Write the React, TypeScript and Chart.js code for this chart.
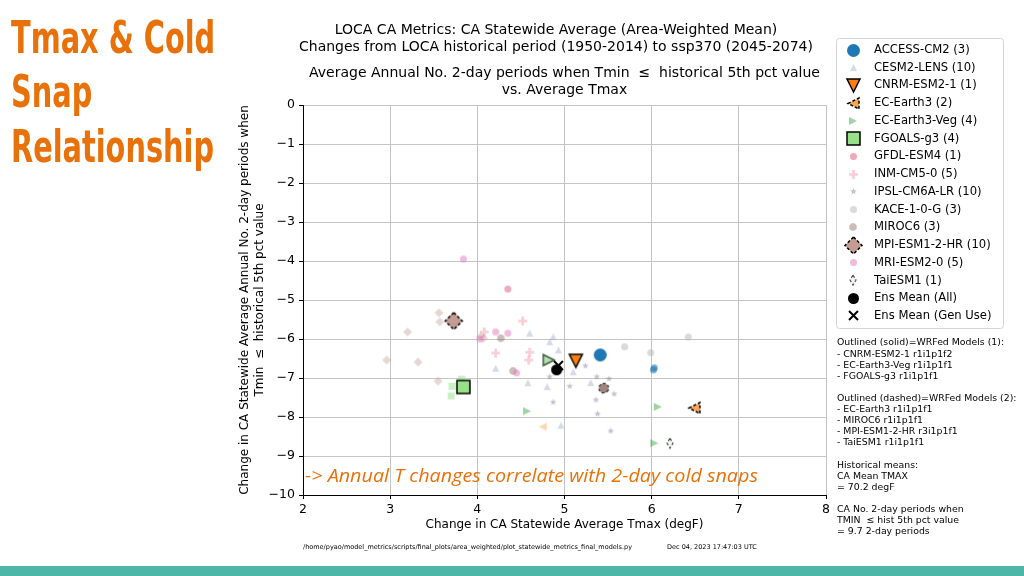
import React, { useEffect, useRef } from 'react';
import { Chart, registerables } from 'chart.js';

Chart.register(...registerables);

const FONT = '"DejaVu Sans", sans-serif';

// ---- Data (x = change in Tmax degF, y = change in no. of 2-day cold periods) ----
// For models with a highlighted (WRF / main) member, it is the LAST point.
const modelNames = [
  'ACCESS-CM2', 'CESM2-LENS', 'CNRM-ESM2-1', 'EC-Earth3', 'EC-Earth3-Veg', 'FGOALS-g3',
  'GFDL-ESM4', 'INM-CM5-0', 'IPSL-CM6A-LR', 'KACE-1-0-G', 'MIROC6', 'MPI-ESM1-2-HR',
  'MRI-ESM2-0', 'TaiESM1',
];
const memberCounts = [3, 10, 1, 2, 4, 4, 1, 5, 10, 3, 3, 10, 5, 1];

const accessX = [6.02, 6.03, 5.41];
const accessY = [-6.79, -6.74, -6.41];
const cesmX = [4.60, 4.87, 4.83, 4.93, 5.10, 4.58, 4.80, 5.30, 4.96, 4.21];
const cesmY = [-5.85, -5.94, -6.07, -6.28, -6.84, -7.12, -7.22, -7.12, -8.21, -6.75];
const cnrmX = [5.13];
const cnrmY = [-6.56];
const ecEarthX = [4.75, 6.49];
const ecEarthY = [-8.25, -7.77];
const ecVegX = [4.57, 6.07, 6.03, 4.82];
const ecVegY = [-7.85, -7.74, -8.67, -6.54];
const fgoalsX = [3.82, 3.71, 3.70, 3.84];
const fgoalsY = [-7.03, -7.21, -7.46, -7.23];
const gfdlX = [4.35];
const gfdlY = [-4.72];
const inmX = [4.52, 4.08, 4.21, 4.60, 4.59];
const inmY = [-5.54, -5.82, -6.36, -6.34, -6.54];
const ipslX = [5.24, 4.83, 5.06, 5.37, 5.51, 5.57, 5.36, 4.87, 5.38, 5.53];
const ipslY = [-6.69, -6.97, -7.21, -6.97, -7.02, -7.41, -7.56, -7.62, -7.92, -8.36];
const kaceX = [5.69, 6.42, 5.99];
const kaceY = [-6.20, -5.95, -6.35];
const mirocX = [4.27, 4.41, 5.45];
const mirocY = [-5.98, -6.82, -7.26];
const mpiX = [3.56, 3.57, 3.20, 2.96, 3.32, 3.55, 4.04, 4.07, 3.70, 3.73];
const mpiY = [-5.33, -5.56, -5.82, -6.54, -6.59, -7.08, -5.93, -5.98, -5.47, -5.54];
const mriX = [3.84, 4.21, 4.35, 4.45, 4.03];
const mriY = [-3.95, -5.82, -5.85, -6.87, -6.00];
const taiX = [6.21];
const taiY = [-8.67];
const ensAllX = [4.91];
const ensAllY = [-6.79];
const ensGenX = [4.93];
const ensGenY = [-6.68];

const modelXs = [accessX, cesmX, cnrmX, ecEarthX, ecVegX, fgoalsX, gfdlX, inmX, ipslX, kaceX, mirocX, mpiX, mriX, taiX];
const modelYs = [accessY, cesmY, cnrmY, ecEarthY, ecVegY, fgoalsY, gfdlY, inmY, ipslY, kaceY, mirocY, mpiY, mriY, taiY];

const xTickValues = [2, 3, 4, 5, 6, 7, 8];
const yTickValues = [0, -1, -2, -3, -4, -5, -6, -7, -8, -9, -10];

const titleLines1 = [
  'LOCA CA Metrics: CA Statewide Average (Area-Weighted Mean)',
  'Changes from LOCA historical period (1950-2014) to ssp370 (2045-2074)',
];
const titleLines2 = [
  'Average Annual No. 2-day periods when Tmin  \u2264  historical 5th pct value',
  'vs. Average Tmax',
];
const yTitle = [
  'Change in CA Statewide Average Annual No. 2-day periods when',
  'Tmin  \u2264  historical 5th pct value',
];
const xTitle = 'Change in CA Statewide Average Tmax (degF)';
const slideTitle = ['Tmax & Cold', 'Snap', 'Relationship'];
const noteLines = [
  'Outlined (solid)=WRFed Models (1):',
  '- CNRM-ESM2-1 r1i1p1f2',
  '- EC-Earth3-Veg r1i1p1f1',
  '- FGOALS-g3 r1i1p1f1',
  '',
  'Outlined (dashed)=WRFed Models (2):',
  '- EC-Earth3 r1i1p1f1',
  '- MIROC6 r1i1p1f1',
  '- MPI-ESM1-2-HR r3i1p1f1',
  '- TaiESM1 r1i1p1f1',
  '',
  'Historical means:',
  'CA Mean TMAX',
  '= 70.2 degF',
  '',
  'CA No. 2-day periods when',
  'TMIN  \u2264 hist 5th pct value',
  '= 9.7 2-day periods',
];
const annotation = '-> Annual T changes correlate with 2-day cold snaps';
const footerPath = '/home/pyao/model_metrics/scripts/final_plots/area_weighted/plot_statewide_metrics_final_models.py';
const footerDate = 'Dec 04, 2023 17:47:03 UTC';

// ---- Marker styles ----
type Shape = 'circle' | 'triUp' | 'triDown' | 'triLeft' | 'triRight' | 'square' | 'diamond' |
  'thinDiamond' | 'plus' | 'star' | 'octagon' | 'x';
interface MSpec { shape: Shape; size: number; fill: string; alpha?: number; stroke?: string; lw?: number; dash?: boolean; }
interface ModelStyle { small?: MSpec; hi?: MSpec; legend: 'small' | 'hi'; }

const STYLES: ModelStyle[] = [
  { small: { shape: 'circle', size: 7, fill: '#1f77b4', alpha: 0.6 }, hi: { shape: 'circle', size: 13, fill: '#1f77b4' }, legend: 'hi' },
  { small: { shape: 'triUp', size: 7, fill: '#a3acc8', alpha: 0.45 }, legend: 'small' },
  { hi: { shape: 'triDown', size: 13, fill: '#ff7f0e', stroke: '#000', lw: 1.5 }, legend: 'hi' },
  { small: { shape: 'triLeft', size: 8, fill: '#ffbb78', alpha: 0.6 }, hi: { shape: 'triLeft', size: 11, fill: '#f9a65a', stroke: '#000', lw: 1.5, dash: true }, legend: 'hi' },
  { small: { shape: 'triRight', size: 8, fill: '#2ca02c', alpha: 0.45 }, hi: { shape: 'triRight', size: 11, fill: 'rgba(44,160,44,0.35)', stroke: '#3b5b3b', lw: 1.5 }, legend: 'small' },
  { small: { shape: 'square', size: 7, fill: '#98df8a', alpha: 0.5 }, hi: { shape: 'square', size: 13, fill: '#98df8a', stroke: '#000', lw: 1.5 }, legend: 'hi' },
  { small: { shape: 'circle', size: 7, fill: '#d9557a', alpha: 0.5 }, legend: 'small' },
  { small: { shape: 'plus', size: 9, fill: '#f08aa0', alpha: 0.42 }, legend: 'small' },
  { small: { shape: 'star', size: 7, fill: '#8c7fa8', alpha: 0.5 }, legend: 'small' },
  { small: { shape: 'circle', size: 7, fill: '#b5b5b5', alpha: 0.5 }, legend: 'small' },
  { small: { shape: 'octagon', size: 8, fill: '#8c6a64', alpha: 0.45 }, hi: { shape: 'octagon', size: 10, fill: '#a08480', stroke: '#333', lw: 1.2, dash: true }, legend: 'small' },
  { small: { shape: 'diamond', size: 9, fill: '#c49c94', alpha: 0.4 }, hi: { shape: 'diamond', size: 17, fill: '#c49c94', stroke: '#000', lw: 1.5, dash: true }, legend: 'hi' },
  { small: { shape: 'circle', size: 7, fill: '#e377c2', alpha: 0.5 }, legend: 'small' },
  { hi: { shape: 'thinDiamond', size: 10, fill: '#f2f2f2', stroke: '#555', lw: 1.2, dash: true }, legend: 'hi' },
];
const ENS_ALL: MSpec = { shape: 'circle', size: 11, fill: '#000' };
const ENS_GEN: MSpec = { shape: 'x', size: 9, fill: '#000', lw: 2 };

function tracePath(g: CanvasRenderingContext2D, shape: Shape, c: number, r: number) {
  g.beginPath();
  const poly = (pts: number[][]) => {
    g.moveTo(c + pts[0][0] * r, c + pts[0][1] * r);
    for (let i = 1; i < pts.length; i++) g.lineTo(c + pts[i][0] * r, c + pts[i][1] * r);
    g.closePath();
  };
  switch (shape) {
    case 'circle': g.arc(c, c, r, 0, Math.PI * 2); break;
    case 'square': poly([[-1, -1], [1, -1], [1, 1], [-1, 1]]); break;
    case 'diamond': poly([[0, -1], [1, 0], [0, 1], [-1, 0]]); break;
    case 'thinDiamond': poly([[0, -1], [0.6, 0], [0, 1], [-0.6, 0]]); break;
    case 'triUp': poly([[0, -1], [1, 1], [-1, 1]]); break;
    case 'triDown': poly([[0, 1], [-1, -1], [1, -1]]); break;
    case 'triLeft': poly([[-1, 0], [1, -1], [1, 1]]); break;
    case 'triRight': poly([[1, 0], [-1, 1], [-1, -1]]); break;
    case 'plus': {
      const w = 0.3;
      poly([[-w, -1], [w, -1], [w, -w], [1, -w], [1, w], [w, w], [w, 1], [-w, 1], [-w, w], [-1, w], [-1, -w], [-w, -w]]);
      break;
    }
    case 'star': {
      const pts: number[][] = [];
      for (let i = 0; i < 10; i++) {
        const a = -Math.PI / 2 + (i * Math.PI) / 5;
        const rr = i % 2 === 0 ? 1 : 0.42;
        pts.push([Math.cos(a) * rr, Math.sin(a) * rr]);
      }
      poly(pts);
      break;
    }
    case 'octagon': {
      const pts: number[][] = [];
      for (let i = 0; i < 8; i++) {
        const a = Math.PI / 8 + (i * Math.PI) / 4;
        pts.push([Math.cos(a), Math.sin(a)]);
      }
      poly(pts);
      break;
    }
    default: break;
  }
}

function makeMarker(spec: MSpec): HTMLCanvasElement {
  const lw = spec.lw ?? 0;
  const dim = Math.ceil(spec.size + lw + 4);
  const cv = document.createElement('canvas');
  cv.width = dim;
  cv.height = dim;
  const g = cv.getContext('2d')!;
  const c = dim / 2;
  g.globalAlpha = spec.alpha ?? 1;
  if (spec.shape === 'x') {
    const r = spec.size / 2;
    g.strokeStyle = spec.fill;
    g.lineWidth = lw || 2;
    g.beginPath();
    g.moveTo(c - r, c - r); g.lineTo(c + r, c + r);
    g.moveTo(c + r, c - r); g.lineTo(c - r, c + r);
    g.stroke();
    return cv;
  }
  tracePath(g, spec.shape, c, spec.size / 2);
  g.fillStyle = spec.fill;
  g.fill();
  if (spec.stroke && lw > 0) {
    g.globalAlpha = 1;
    g.strokeStyle = spec.stroke;
    g.lineWidth = lw;
    if (spec.dash) g.setLineDash([3, 2]);
    g.stroke();
  }
  return cv;
}

const fmtTick = (v: number) => (v < 0 ? '\u2212' + Math.abs(v) : String(v));

export default function App() {
  const ref = useRef<HTMLCanvasElement>(null);

  useEffect(() => {
    if (!ref.current) return;
    const smallC = STYLES.map((s) => (s.small ? makeMarker(s.small) : null));
    const hiC = STYLES.map((s) => (s.hi ? makeMarker(s.hi) : null));
    const ensAllC = makeMarker(ENS_ALL);
    const ensGenC = makeMarker(ENS_GEN);

    const datasets: any[] = modelNames.map((name, m) => {
      const xs = modelXs[m];
      const ys = modelYs[m];
      const hiIdx = STYLES[m].hi ? xs.length - 1 : -1;
      return {
        label: `${name} (${memberCounts[m]})`,
        data: xs.map((x, i) => ({ x, y: ys[i] })),
        pointStyle: (ctx: any) => (ctx.dataIndex === hiIdx ? hiC[m] : smallC[m]),
        pointRadius: 3,
        order: -m,
      };
    });
    datasets.push({
      label: 'Ens Mean (Gen Use)',
      data: ensGenX.map((x, i) => ({ x, y: ensGenY[i] })),
      pointStyle: ensGenC, pointRadius: 3, order: -20,
    });
    datasets.push({
      label: 'Ens Mean (All)',
      data: ensAllX.map((x, i) => ({ x, y: ensAllY[i] })),
      pointStyle: ensAllC, pointRadius: 3, order: -21,
    });

    const legendRows: { label: string; img: HTMLCanvasElement }[] = modelNames.map((name, m) => ({
      label: `${name} (${memberCounts[m]})`,
      img: (STYLES[m].legend === 'hi' ? hiC[m] : smallC[m]) as HTMLCanvasElement,
    }));
    legendRows.push({ label: 'Ens Mean (All)', img: ensAllC });
    legendRows.push({ label: 'Ens Mean (Gen Use)', img: ensGenC });

    const decor = {
      id: 'decor',
      beforeDraw(chart: any) {
        const g = chart.ctx as CanvasRenderingContext2D;
        g.save();
        g.fillStyle = '#ffffff';
        g.fillRect(0, 0, chart.width, chart.height);
        g.restore();
      },
      afterDraw(chart: any) {
        const g = chart.ctx as CanvasRenderingContext2D;
        const area = chart.chartArea;
        g.save();
        // slide title
        g.fillStyle = '#e8710a';
        g.font = 'bold 44px "Liberation Sans Narrow", "DejaVu Sans Condensed", sans-serif';
        g.textBaseline = 'alphabetic';
        g.textAlign = 'left';
        const wRel = g.measureText(slideTitle[2]).width;
        const sx = 203 / wRel;
        const baselines = [53, 107, 162];
        slideTitle.forEach((t, i) => {
          g.save();
          g.translate(11, baselines[i]);
          g.scale(sx, 1);
          g.fillText(t, 0, 0);
          g.restore();
        });

        // chart titles
        g.fillStyle = '#000';
        g.font = `14px ${FONT}`;
        g.textAlign = 'center';
        g.textBaseline = 'middle';
        g.fillText(titleLines1[0], 556, 30);
        g.fillText(titleLines1[1], 556, 47);
        const cx = (area.left + area.right) / 2;
        g.fillText(titleLines2[0], cx, 73);
        g.fillText(titleLines2[1], cx, 90);

        // annotation
        g.fillStyle = '#e8710a';
        g.font = `italic 19px "Open Sans", sans-serif`;
        g.textAlign = 'left';
        g.textBaseline = 'alphabetic';
        const wa = g.measureText(annotation).width;
        g.save();
        g.translate(305, 482);
        g.scale(453 / wa, 1);
        g.fillText(annotation, 0, 0);
        g.restore();

        // legend box
        g.fillStyle = '#fff';
        g.strokeStyle = '#d4d4d4';
        g.lineWidth = 1;
        g.beginPath();
        (g as any).roundRect(836.5, 38.5, 167, 290, 3);
        g.fill();
        g.stroke();
        g.font = `11.6px ${FONT}`;
        g.fillStyle = '#000';
        g.textBaseline = 'middle';
        legendRows.forEach((row, i) => {
          const y = 50 + i * 17.73;
          g.drawImage(row.img, Math.round(853 - row.img.width / 2), Math.round(y - row.img.height / 2));
          g.fillText(row.label, 874, y);
        });

        // notes
        g.font = `9.35px ${FONT}`;
        noteLines.forEach((t, i) => {
          if (t) g.fillText(t, 837, 343 + i * 11.1);
        });

        // footer
        g.font = `6.5px ${FONT}`;
        g.fillText(footerPath, 303, 547);
        g.fillText(footerDate, 667, 547);

        // teal bar
        g.fillStyle = '#4db6a9';
        g.fillRect(0, 566, chart.width, 10);
        g.restore();
      },
    };

    const chart = new Chart(ref.current, {
      type: 'scatter',
      data: { datasets },
      options: {
        animation: false,
        responsive: false,
        events: [],
        devicePixelRatio: 1,
        layout: { padding: { left: 230, top: 105, right: 198, bottom: 0 } },
        plugins: { legend: { display: false }, tooltip: { enabled: false }, title: { display: false } },
        scales: {
          x: {
            type: 'linear',
            min: xTickValues[0],
            max: xTickValues[xTickValues.length - 1],
            afterFit: (s: any) => { s.height = 81; },
            afterBuildTicks: (s: any) => { s.ticks = xTickValues.map((v) => ({ value: v })); },
            ticks: { color: '#000', font: { family: FONT, size: 12.5 }, padding: 3, maxRotation: 0, autoSkip: false, callback: (v: any) => fmtTick(Number(v)) },
            grid: { color: '#c4c4c4', lineWidth: 1, tickLength: 4, tickColor: '#000' },
            border: { display: true, color: '#000', width: 1 },
            title: { display: true, text: xTitle, color: '#000', font: { family: FONT, size: 12 }, padding: { top: 0, bottom: 44 } },
          },
          y: {
            type: 'linear',
            min: yTickValues[yTickValues.length - 1],
            max: yTickValues[0],
            afterFit: (s: any) => { s.width = 73; },
            afterBuildTicks: (s: any) => { s.ticks = yTickValues.slice().reverse().map((v) => ({ value: v })); },
            ticks: { color: '#000', font: { family: FONT, size: 12.5 }, padding: 4, autoSkip: false, callback: (v: any) => fmtTick(Number(v)) },
            grid: { color: '#c4c4c4', lineWidth: 1, tickLength: 4, tickColor: '#000' },
            border: { display: true, color: '#000', width: 1 },
            title: { display: true, text: yTitle, color: '#000', font: { family: FONT, size: 12, lineHeight: 1.25 }, padding: { top: 7.5, bottom: 0 } },
          },
        },
      } as any,
      plugins: [decor],
    });
    return () => chart.destroy();
  }, []);

  return (
    <div style={{ position: 'fixed', left: 0, top: 0, width: 1024, height: 576, background: '#fff' }}>
      <canvas ref={ref} width={1024} height={576} style={{ display: 'block' }} />
    </div>
  );
}
